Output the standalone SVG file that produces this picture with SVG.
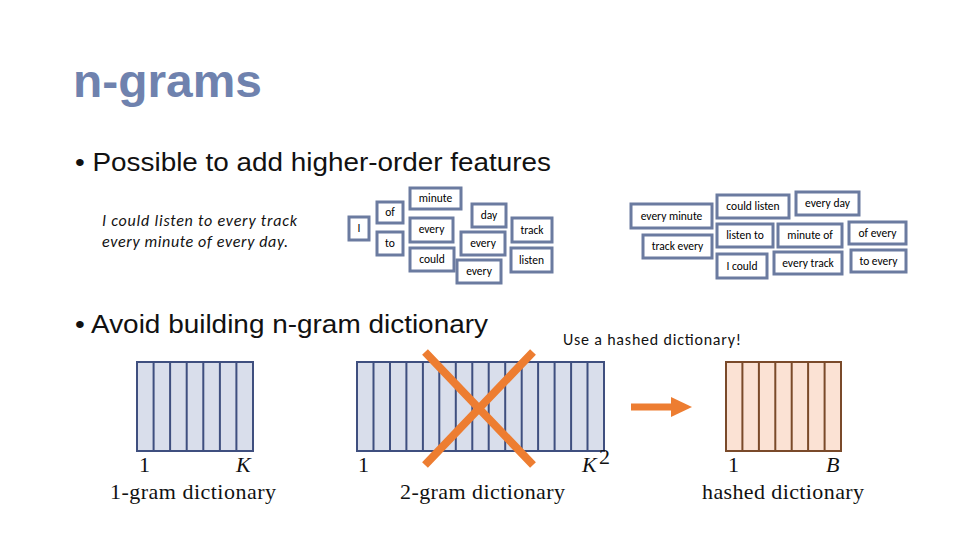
<svg xmlns="http://www.w3.org/2000/svg" width="960" height="540" viewBox="0 0 960 540">
<style>
.b rect{fill:#fff;stroke:#6b7ba0;stroke-width:3}
.b text{font-family:Carlito,"Liberation Sans",sans-serif;font-size:11.5px;fill:#000;text-anchor:middle}
.m{font-family:"Liberation Serif",serif;font-size:22px;fill:#111}
.c{stroke:#3f4f7f;stroke-width:2}
</style>
<rect width="960" height="540" fill="#fff"/>
<text x="73" y="97" font-family="Liberation Sans,sans-serif" font-size="46" font-weight="bold" fill="#6f82ae" textLength="189" lengthAdjust="spacingAndGlyphs">n-grams</text>
<text x="75" y="171" font-family="Liberation Sans,sans-serif" font-size="25" fill="#111" textLength="476" lengthAdjust="spacingAndGlyphs">• Possible to add higher-order features</text>
<text x="75" y="333" font-family="Liberation Sans,sans-serif" font-size="25" fill="#111" textLength="413" lengthAdjust="spacingAndGlyphs">• Avoid building n-gram dictionary</text>
<g font-family="Carlito,'Liberation Sans',sans-serif" font-style="italic" font-size="16" fill="#111">
<text x="102" y="226" textLength="195">I could listen to every track</text>
<text x="102" y="247" textLength="186">every minute of every day.</text>
</g>
<text x="563" y="345" font-family="Carlito,'Liberation Sans',sans-serif" font-size="16" fill="#111" textLength="178">Use a hashed dictionary!</text>
<g class="b">
<g id="n-I"><rect x="349" y="217" width="20" height="23"/><text x="359" y="232">I</text></g>
<g id="n-of"><rect x="377" y="202" width="26" height="21"/><text x="390" y="216">of</text></g>
<g id="n-to"><rect x="377" y="232" width="26" height="23"/><text x="390" y="247">to</text></g>
<g id="n-minute"><rect x="410" y="188" width="51" height="21"/><text x="435.5" y="202">minute</text></g>
<g id="n-every1"><rect x="410" y="218" width="43" height="24"/><text x="431.5" y="233">every</text></g>
<g id="n-could"><rect x="410" y="248" width="44" height="23"/><text x="432" y="263">could</text></g>
<g id="n-day"><rect x="472" y="204" width="34" height="23"/><text x="489" y="219">day</text></g>
<g id="n-every2"><rect x="461" y="232" width="44" height="23"/><text x="483" y="247">every</text></g>
<g id="n-every3"><rect x="457" y="260" width="44" height="23"/><text x="479" y="275">every</text></g>
<g id="n-track"><rect x="512" y="218" width="40" height="24"/><text x="532" y="234">track</text></g>
<g id="n-listen"><rect x="511" y="248" width="41" height="24"/><text x="531.5" y="264">listen</text></g>
<g id="n-everyminute"><rect x="631" y="204" width="81" height="24"/><text x="671.5" y="220">every minute</text></g>
<g id="n-trackevery"><rect x="643" y="235" width="69" height="23"/><text x="677.5" y="250">track every</text></g>
<g id="n-couldlisten"><rect x="717" y="195" width="72" height="23"/><text x="753" y="210">could listen</text></g>
<g id="n-everyday"><rect x="796" y="192" width="63" height="23"/><text x="827.5" y="207">every day</text></g>
<g id="n-listento"><rect x="717" y="224" width="56" height="23"/><text x="745" y="239">listen to</text></g>
<g id="n-minuteof"><rect x="778" y="224" width="64" height="23"/><text x="810" y="239">minute of</text></g>
<g id="n-ofevery"><rect x="849" y="222" width="57" height="22"/><text x="877.5" y="237">of every</text></g>
<g id="n-Icould"><rect x="717" y="254" width="50" height="24"/><text x="742" y="270">I could</text></g>
<g id="n-everytrack"><rect x="774" y="252" width="68" height="22"/><text x="808" y="267">every track</text></g>
<g id="n-toevery"><rect x="851" y="250" width="55" height="22"/><text x="878.5" y="265">to every</text></g>
</g>
<g id="dict1">
<rect x="137" y="362" width="116" height="89" fill="#d9deeb" class="c"/>
<path class="c" d="M153.6 362V451M170.1 362V451M186.7 362V451M203.3 362V451M219.9 362V451M236.4 362V451"/>
<text class="m" x="139" y="472">1</text><text class="m" x="236" y="472" font-style="italic">K</text>
<text class="m" x="110" y="499" textLength="166">1-gram dictionary</text>
</g>
<g id="dict2">
<rect x="357" y="362" width="247" height="89" fill="#d9deeb" class="c"/>
<path class="c" d="M373.5 362V451M390 362V451M406.4 362V451M422.9 362V451M439.3 362V451M455.8 362V451M472.3 362V451M488.7 362V451M505.2 362V451M521.7 362V451M538.1 362V451M554.6 362V451M571.1 362V451M587.5 362V451"/>
<text class="m" x="358" y="472">1</text><text class="m" x="582" y="472" font-style="italic">K</text><text class="m" x="599" y="464" font-size="13">2</text>
<text class="m" x="400" y="499" textLength="165">2-gram dictionary</text>
<path d="M425 352L533 465M533 352L425 465" stroke="#ed7d31" stroke-width="8"/>
</g>
<g id="dict3">
<rect x="726" y="362" width="115" height="89" fill="#fbe2d4" stroke="#7a4a2a" stroke-width="2"/>
<path stroke="#7a4a2a" stroke-width="2" d="M742.4 362V451M758.9 362V451M775.3 362V451M791.7 362V451M808.1 362V451M824.6 362V451"/>
<text class="m" x="728" y="472">1</text><text class="m" x="826" y="472" font-style="italic">B</text>
<text class="m" x="702" y="499" textLength="162">hashed dictionary</text>
</g>
<g id="connectors">
<path d="M631 407H674" stroke="#ed7d31" stroke-width="7"/>
<polygon points="671,397 692,407 671,417" fill="#ed7d31"/>
</g>
</svg>
